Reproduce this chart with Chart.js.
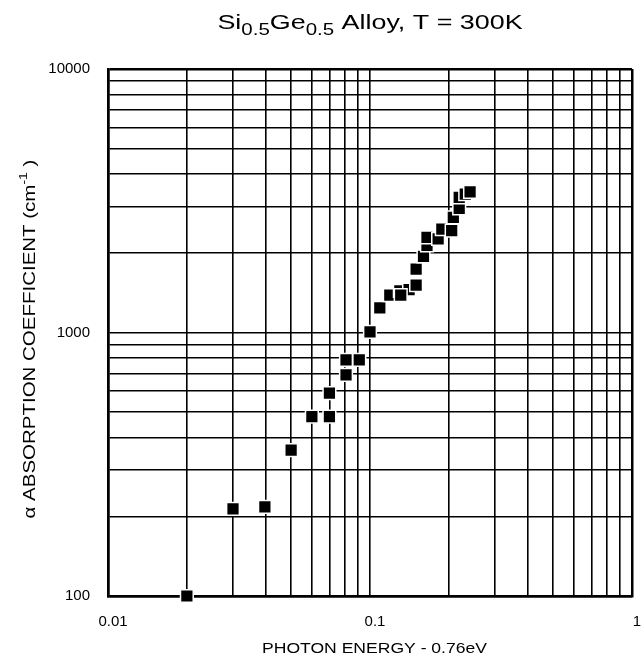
<!DOCTYPE html>
<html>
<head>
<meta charset="utf-8">
<script src="https://cdn.jsdelivr.net/npm/chart.js@4/dist/chart.umd.min.js"></script>
<style>
  html, body { margin: 0; padding: 0; background: #fff; }
  canvas { display: block; }
</style>
</head>
<body>
<canvas id="absorption" width="644" height="661"></canvas>
<script>
// photon energy minus 0.76 eV
const energy = [0.02, 0.03, 0.0397, 0.05, 0.06, 0.07, 0.07, 0.081, 0.081, 0.091,
                0.1, 0.109, 0.119, 0.13, 0.141, 0.131, 0.15, 0.15, 0.16, 0.165,
                0.165, 0.182, 0.188, 0.205, 0.208, 0.219, 0.219, 0.231, 0.241];
// absorption coefficient (cm^-1)
const alpha = [100, 214, 218, 358, 479, 479, 589, 690, 788, 788,
               1005, 1240, 1387, 1440, 1455, 1387, 1514, 1741, 1946, 2143,
               2296, 2265, 2470, 2434, 2737, 2960, 3258, 3354, 3420];

// grid lines and labelled ticks
const xGrid = [0.01, 0.02, 0.03, 0.04, 0.05, 0.06, 0.07, 0.08, 0.09,
               0.1, 0.2, 0.3, 0.4, 0.5, 0.6, 0.7, 0.8, 0.9, 1];
const yGrid = [100, 200, 300, 400, 500, 600, 700, 800, 900,
               1000, 2000, 3000, 4000, 5000, 6000, 7000, 8000, 9000, 10000];
const xTickLabels = ['0.01', '0.1', '1'];
const yTickLabels = ['100', '1000', '10000'];

const FONT = '"Liberation Sans", Arial, Helvetica, sans-serif';

// draw a line of text made of parts (for sub/superscripts), centred on x
function drawParts(ctx, parts, stretch) {
    let total = 0;
    parts.forEach((p) => {
        ctx.font = p.size + 'px ' + FONT;
        p.w = ctx.measureText(p.text).width;
        total += p.w;
    });
    ctx.scale(stretch, 1);
    let x = -total / 2;
    parts.forEach((p) => {
        ctx.font = p.size + 'px ' + FONT;
        ctx.fillText(p.text, x, p.dy || 0);
        x += p.w;
    });
}

const textPlugin = {
    id: 'texts',
    afterDraw(chart) {
        const ctx = chart.ctx;
        ctx.save();
        ctx.fillStyle = '#000';
        ctx.textAlign = 'left';
        ctx.textBaseline = 'alphabetic';

        ctx.save();
        ctx.translate(370, 28.5);
        drawParts(ctx, [
            {text: 'Si', size: 21},
            {text: '0.5', size: 16, dy: 6.5},
            {text: 'Ge', size: 21},
            {text: '0.5', size: 16, dy: 6.5},
            {text: ' Alloy, T = 300K', size: 21}
        ], 1.28);
        ctx.restore();

        ctx.save();
        ctx.translate(374.5, 653);
        drawParts(ctx, [{text: 'PHOTON ENERGY - 0.76eV', size: 15}], 1.17);
        ctx.restore();

        ctx.save();
        ctx.translate(35, 339);
        ctx.rotate(-Math.PI / 2);
        drawParts(ctx, [
            {text: '\u03B1 ABSORPTION COEFFICIENT (cm', size: 16},
            {text: '-1', size: 11, dy: -8},
            {text: ' )', size: 16}
        ], 1.28);
        ctx.restore();

        ctx.restore();
    }
};

function edgeWidth(min, max) {
    return (c) => (c.tick && (c.tick.value === min || c.tick.value === max)) ? 2.5 : 1.6;
}

const points = energy.map((x, i) => ({x: x, y: alpha[i]}));

new Chart(document.getElementById('absorption'), {
    type: 'scatter',
    data: {
        datasets: [{
            data: points,
            pointStyle: 'rect',
            pointRadius: 9,
            backgroundColor: '#000',
            borderColor: '#fff',
            borderWidth: 1.5,
            clip: false
        }]
    },
    options: {
        responsive: false,
        animation: false,
        devicePixelRatio: 1,
        events: [],
        layout: {padding: {top: 69, right: 12, left: 0, bottom: 0}},
        plugins: {legend: {display: false}, tooltip: {enabled: false}},
        scales: {
            x: {
                type: 'logarithmic',
                min: 0.01,
                max: 1,
                afterBuildTicks: (scale) => { scale.ticks = xGrid.map((v) => ({value: v})); },
                afterFit: (scale) => {
                    scale.height = 65;
                    scale.paddingLeft = 0;
                    scale.paddingRight = 0;
                },
                grid: {color: '#000', lineWidth: edgeWidth(0.01, 1), drawTicks: false},
                border: {color: '#000', width: 2.5},
                ticks: {
                    autoSkip: false,
                    maxRotation: 0,
                    padding: 17,
                    labelOffset: 5,
                    color: '#000',
                    font: {family: FONT, size: 15},
                    callback: (v) => xTickLabels.includes(String(v)) ? String(v) : ''
                }
            },
            y: {
                type: 'logarithmic',
                min: 100,
                max: 10000,
                afterBuildTicks: (scale) => { scale.ticks = yGrid.map((v) => ({value: v})); },
                afterFit: (scale) => {
                    scale.width = 108;
                    scale.paddingTop = 0;
                    scale.paddingBottom = 0;
                },
                grid: {color: '#000', lineWidth: edgeWidth(100, 10000), drawTicks: false},
                border: {color: '#000', width: 2.5},
                ticks: {
                    autoSkip: false,
                    padding: 18,
                    color: '#000',
                    font: {family: FONT, size: 15},
                    callback: (v) => yTickLabels.includes(String(v)) ? String(v) : ''
                }
            }
        }
    },
    plugins: [textPlugin]
});
</script>
</body>
</html>
